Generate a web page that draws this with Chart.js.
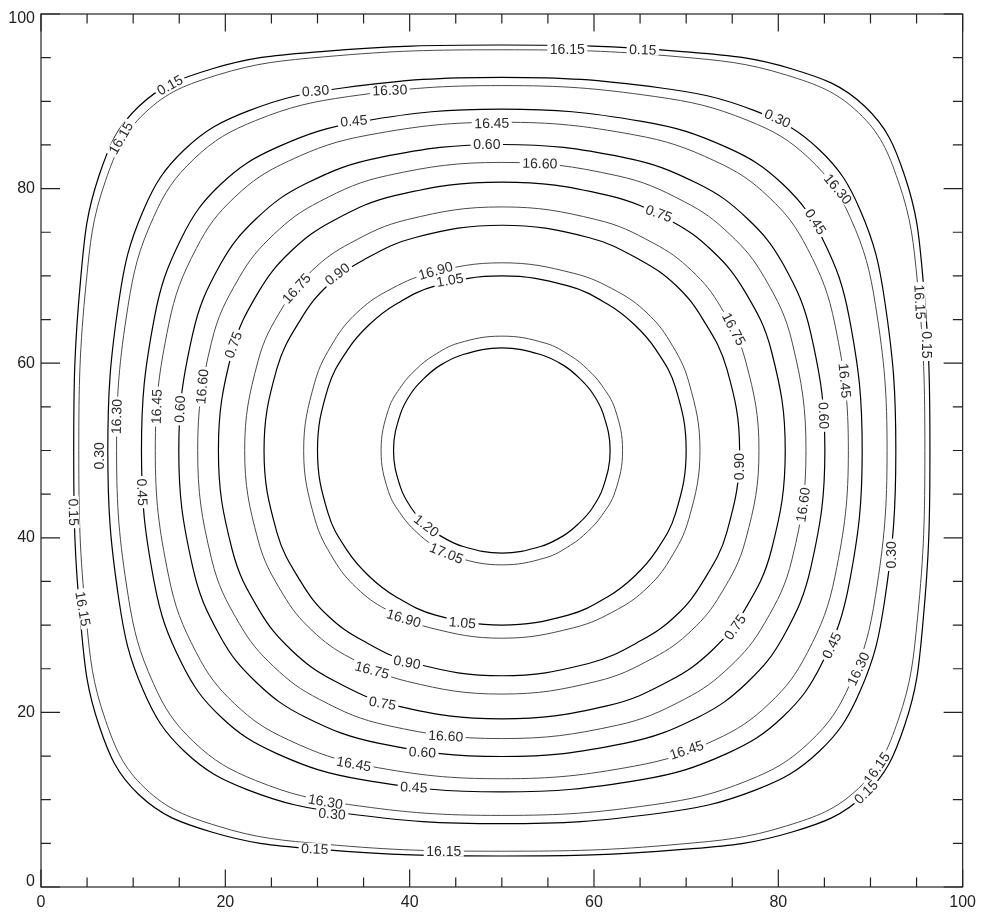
<!DOCTYPE html>
<html>
<head>
<meta charset="utf-8">
<title>Contours</title>
<script src="https://cdn.jsdelivr.net/npm/chart.js@4.4.1/dist/chart.umd.min.js"></script>
<style>
  html, body { margin: 0; padding: 0; background: #fff; }
  canvas { display: block; }
</style>
</head>
<body>
<canvas id="contourChart" width="982" height="915"></canvas>
<script>
/* Two contour families on a 0..100 square */

const center = [50, 50];
const axisTicks = [0, 20, 40, 60, 80, 100];
const minorTicks = [5, 10, 15, 25, 30, 35, 45, 50, 55, 65, 70, 75, 85, 90, 95];

// heavy family: one quadrant per level, offsets [dx, dy] from the centre
const levelsA = ['0.15', '0.30', '0.45', '0.60', '0.75', '0.90', '1.05', '1.20'];
const quadA = [
  [[46.45, 0], [45.7, 19.6], [43.7, 31.5], [39.4, 39.4], [31.5, 43.7], [19.6, 45.7], [0, 46.45]],
  [[42.75, 0], [41.55, 17.1], [38.9, 27.5], [34.45, 34.45], [27.5, 38.9], [17.1, 41.55], [0, 42.75]],
  [[39.1, 0], [37.7, 15.2], [34.75, 24.35], [30.5, 30.5], [24.35, 34.75], [15.2, 37.7], [0, 39.1]],
  [[35.05, 0], [33.55, 13.3], [30.55, 21.3], [26.6, 26.6], [21.3, 30.55], [13.3, 33.55], [0, 35.05]],
  [[30.75, 0], [29.25, 11.4], [26.35, 18.25], [22.85, 22.85], [18.25, 26.35], [11.4, 29.25], [0, 30.75]],
  [[25.8, 0], [24.4, 9.4], [21.8, 15.05], [18.9, 18.9], [15.05, 21.8], [9.4, 24.4], [0, 25.8]],
  [[20.0, 0], [18.85, 7.2], [16.75, 11.5], [14.4, 14.4], [11.5, 16.75], [7.2, 18.85], [0, 20.0]],
  [[11.75, 0], [11.0, 4.2], [9.75, 6.7], [8.35, 8.35], [6.7, 9.75], [4.2, 11.0], [0, 11.75]]
];

// light family
const levelsB = ['16.15', '16.30', '16.45', '16.60', '16.75', '16.90', '17.05'];
const quadB = [
  [[45.9, 0], [45.1, 19.2], [43.0, 30.9], [38.7, 38.7], [30.9, 43.0], [19.2, 45.1], [0, 45.9]],
  [[41.8, 0], [40.55, 16.6], [37.8, 26.7], [33.4, 33.4], [26.7, 37.8], [16.6, 40.55], [0, 41.8]],
  [[37.6, 0], [36.15, 14.4], [33.15, 23.15], [29.0, 29.0], [23.15, 33.15], [14.4, 36.15], [0, 37.6]],
  [[33.0, 0], [31.5, 12.4], [28.5, 19.8], [24.75, 24.75], [19.8, 28.5], [12.4, 31.5], [0, 33.0]],
  [[27.9, 0], [26.45, 10.25], [23.75, 16.45], [20.6, 20.6], [16.45, 23.75], [10.25, 26.45], [0, 27.9]],
  [[21.5, 0], [20.3, 7.8], [18.2, 12.55], [15.75, 15.75], [12.55, 18.2], [7.8, 20.3], [0, 21.5]],
  [[13.1, 0], [12.3, 4.7], [10.85, 7.45], [9.3, 9.3], [7.45, 10.85], [4.7, 12.3], [0, 13.1]]
];

// inline contour labels: text, x, y, rotation in degrees
const contourLabels = [
  ['0.15', 13.97, 91.87, -29], ['16.15', 8.65, 85.8, -60], ['0.30', 29.78, 91.22, -4],
  ['16.30', 37.84, 91.3, -2], ['0.45', 33.94, 87.78, -5], ['16.45', 48.91, 87.51, -1],
  ['0.60', 48.37, 85.12, 0], ['16.60', 54.12, 82.9, 1], ['0.75', 67.04, 77.18, 20],
  ['0.30', 79.92, 88.06, 25], ['16.30', 86.47, 79.96, 50], ['0.45', 84.05, 76.22, 57],
  ['16.75', 75.18, 63.93, 62], ['16.15', 95.37, 67.02, 87], ['0.15', 96.09, 62.1, 90],
  ['16.45', 87.23, 58.01, 85], ['0.60', 84.95, 54.0, 88], ['16.75', 27.72, 68.59, -48],
  ['0.90', 32.13, 70.23, -38], ['16.90', 42.8, 70.61, -16], ['1.05', 44.36, 69.54, -10],
  ['0.75', 20.84, 62.1, -70], ['16.60', 17.47, 57.32, -85], ['0.60', 15.05, 54.73, -88],
  ['16.45', 12.52, 55.03, -88], ['16.30', 8.18, 53.89, -88], ['0.30', 6.26, 49.39, -90],
  ['0.15', 3.55, 42.94, 88], ['0.45', 11.0, 45.23, 88], ['16.15', 4.56, 31.87, 80],
  ['1.20', 41.83, 41.41, 38], ['17.05', 44.0, 38.25, 22], ['16.90', 39.36, 30.8, 17],
  ['1.05', 45.73, 30.3, 5], ['0.90', 39.72, 25.76, 10], ['16.75', 35.92, 24.88, 15],
  ['0.75', 37.05, 21.07, 10], ['16.60', 43.92, 17.32, 3], ['0.60', 41.39, 15.46, 3],
  ['16.45', 33.94, 14.12, 10], ['0.45', 40.45, 11.45, 3], ['16.30', 30.87, 9.8, 10],
  ['0.30', 31.58, 8.39, 5], ['0.15', 29.7, 4.39, 2], ['16.15', 43.7, 4.1, 0],
  ['16.15', 57.11, 95.99, 0], ['0.15', 65.3, 95.93, 2], ['0.90', 75.72, 48.16, -90],
  ['16.60', 82.67, 43.78, -82], ['0.30', 92.29, 38.05, -90], ['0.75', 75.29, 29.77, -55],
  ['0.45', 85.78, 27.67, -65], ['16.30', 88.67, 25.0, -65], ['16.45', 70.05, 15.72, -18],
  ['16.15', 90.67, 13.63, -55], ['0.15', 89.5, 10.88, -45]
];

// mirror one quadrant into a closed ring of points
function ringFrom(quad) {
  const [cx, cy] = center;
  const n = quad.length;
  const pts = [];
  for (let i = 0; i < n; i++) pts.push({x: cx + quad[i][0], y: cy + quad[i][1]});
  for (let i = n - 2; i >= 0; i--) pts.push({x: cx - quad[i][0], y: cy + quad[i][1]});
  for (let i = 1; i < n; i++) pts.push({x: cx - quad[i][0], y: cy - quad[i][1]});
  for (let i = n - 2; i >= 1; i--) pts.push({x: cx + quad[i][0], y: cy - quad[i][1]});
  return pts;
}

const datasets = [];
levelsA.forEach((lv, i) => {
  datasets.push({
    label: lv,
    data: ringFrom(quadA[i]),
    borderColor: '#000',
    borderWidth: 1.2,
    pointRadius: 0,
    tension: 0.4,
    fill: false
  });
});
levelsB.forEach((lv, i) => {
  datasets.push({
    label: lv,
    data: ringFrom(quadB[i]),
    borderColor: '#4a4a4a',
    borderWidth: 1,
    pointRadius: 0,
    tension: 0.4,
    fill: false
  });
});

// let the line element close each ring smoothly (same thing the radar chart does)
const closeLoops = {
  id: 'closeLoops',
  afterDatasetsUpdate(chart) {
    chart.data.datasets.forEach((ds, i) => {
      const line = chart.getDatasetMeta(i).dataset;
      if (line) {
        line._loop = true;
        line._fullLoop = true;
      }
    });
  }
};

const labelsOnLines = {
  id: 'labelsOnLines',
  afterDatasetsDraw(chart) {
    const {ctx, scales: {x, y}} = chart;
    ctx.save();
    ctx.font = '14px "Liberation Sans", Arial, sans-serif';
    ctx.textAlign = 'center';
    ctx.textBaseline = 'middle';
    contourLabels.forEach(([txt, lx, ly, rot]) => {
      const w = ctx.measureText(txt).width;
      ctx.save();
      ctx.translate(x.getPixelForValue(lx), y.getPixelForValue(ly));
      ctx.rotate(rot * Math.PI / 180);
      ctx.fillStyle = '#fff';
      ctx.fillRect(-w / 2 - 2.5, -5.5, w + 5, 11);
      ctx.fillStyle = '#2a2a2a';
      ctx.fillText(txt, 0, 1);
      ctx.restore();
    });
    ctx.restore();
  }
};

// box round the plot with inward ticks on all four sides, y labels kept inside the box height
const frameTicks = {
  id: 'frameTicks',
  afterDraw(chart) {
    const {ctx, chartArea: a, scales: {x, y}} = chart;
    ctx.save();
    ctx.strokeStyle = '#222';
    ctx.lineWidth = 1.2;
    ctx.strokeRect(a.left, a.top, a.right - a.left, a.bottom - a.top);
    ctx.beginPath();
    const marks = (vals, lx, ly) => {
      vals.forEach(v => {
        const px = x.getPixelForValue(v);
        ctx.moveTo(px, a.bottom); ctx.lineTo(px, a.bottom - lx);
        ctx.moveTo(px, a.top); ctx.lineTo(px, a.top + lx);
        const py = y.getPixelForValue(v);
        ctx.moveTo(a.left, py); ctx.lineTo(a.left + ly, py);
        ctx.moveTo(a.right, py); ctx.lineTo(a.right - ly, py);
      });
    };
    marks(axisTicks, 17.5, 19);
    marks(minorTicks, 9.5, 9.8);
    ctx.stroke();

    ctx.fillStyle = '#222';
    ctx.font = '16px "Liberation Sans", Arial, sans-serif';
    ctx.textAlign = 'right';
    ctx.textBaseline = 'middle';
    axisTicks.forEach(v => {
      const py = Math.min(Math.max(y.getPixelForValue(v), a.top + 5), a.bottom - 5);
      ctx.fillText(String(v), a.left - 6, py);
    });
    ctx.restore();
  }
};

const tickFont = {family: '"Liberation Sans", Arial, sans-serif', size: 16};

new Chart(document.getElementById('contourChart').getContext('2d'), {
  type: 'line',
  data: {datasets: datasets},
  options: {
    responsive: false,
    animation: false,
    devicePixelRatio: 1,
    events: [],
    layout: {padding: {top: 14, right: 19, left: 0, bottom: 0}},
    plugins: {legend: {display: false}, tooltip: {enabled: false}},
    scales: {
      x: {
        type: 'linear', min: 0, max: 100,
        afterBuildTicks: s => { s.ticks = axisTicks.map(v => ({value: v})); },
        ticks: {color: '#222', font: tickFont, padding: 6, maxRotation: 0, autoSkip: false},
        grid: {display: false, drawTicks: false},
        border: {display: false},
        afterFit: s => { s.height = 28; }
      },
      y: {
        type: 'linear', min: 0, max: 100,
        afterBuildTicks: s => { s.ticks = axisTicks.map(v => ({value: v})); },
        ticks: {display: false},
        grid: {display: false, drawTicks: false},
        border: {display: false},
        afterFit: s => { s.width = 41; }
      }
    }
  },
  plugins: [closeLoops, labelsOnLines, frameTicks]
});
</script>
</body>
</html>
